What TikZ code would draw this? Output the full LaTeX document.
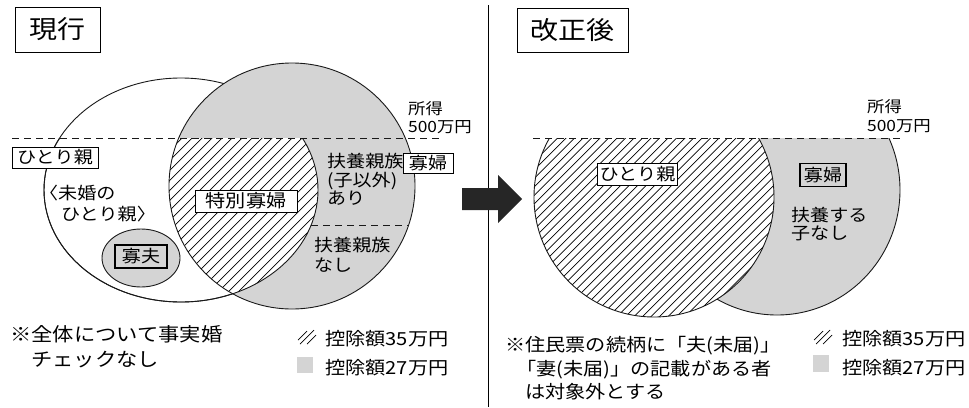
\documentclass[tikz,border=0pt]{standalone}
\usepackage{fontspec}
\setmainfont{Noto Sans CJK JP}[FakeStretch=1.12]
\begin{document}
\begin{tikzpicture}[x=1pt,y=-1pt,
  outl/.style={line width=0.9pt, draw=black!90},
  grayfill/.style={fill=black!17},
  hatchline/.style={line width=0.7pt},
  fs/.style={font=\fontsize{#1}{#1}\selectfont},
  txt/.style={inner sep=0pt, anchor=base west},
  lblbox/.style={draw, line width=0.9pt, fill=white, inner sep=0pt},
  titlebox/.style={draw, line width=0.9pt, inner sep=0pt, fs=25}
]
\useasboundingbox (0,0) rectangle (969,407);

% ---------- left panel ----------
\draw[outl] (181,190) ellipse[x radius=137, y radius=112];
\fill[grayfill] (292,186) circle[radius=123];
\begin{scope}
  \clip (0,138) rectangle (480,407);
  \clip (181,190) ellipse[x radius=137, y radius=112];
  \clip (292,186) circle[radius=123];
  \fill[white] (150,130) rectangle (340,320);
  \foreach \k in {-30,-20,...,320} \draw[hatchline] (\k,330) -- (\k+220,110);
\end{scope}
\begin{scope}
  \clip (0,138) rectangle (480,407);
  \draw[outl] (181,190) ellipse[x radius=137, y radius=112];
\end{scope}
\draw[outl] (292,186) circle[radius=123];
\draw[outl, dash pattern=on 7pt off 5pt] (12,138) -- (443,138);
\draw[outl, dash pattern=on 7pt off 5pt] (311,225) -- (409,225);
\draw[outl, grayfill] (141,258) ellipse[x radius=39, y radius=29];

\node[titlebox, minimum width=85pt, minimum height=45pt] (tGenko) at (57.5,29.5) {現行};
\node[lblbox, fs=17, minimum width=86pt, minimum height=21pt] (lHitori) at (55,157.5) {ひとり親};
\node[txt, fs=17] (lMikon1) at (39,199) {〈未婚の};
\node[txt, fs=17, anchor=base east] (lMikon2) at (156,220) {ひとり親〉};
\node[lblbox, fs=17, line width=1.3pt, fill=none, minimum width=52pt, minimum height=23pt] (lKafu) at (141,256.5) {寡夫};
\node[lblbox, fs=18, minimum width=102pt, minimum height=22pt] (lTokubetsu) at (246,201) {特別寡婦};
\node[txt, fs=17] (lFuyo1) at (327,167) {扶養親族};
\node[txt, fs=17] (lFuyo2) at (327,186) {(子以外)};
\node[txt, fs=17] (lFuyo3) at (327,204) {あり};
\node[lblbox, fs=17, minimum width=50pt, minimum height=20pt] (lKafuW) at (428,163) {寡婦};
\node[txt, fs=15.5] (lShotoku1) at (408,114) {所得};
\node[txt, fs=15.5] (lShotoku2) at (408,132) {500万円};
\node[txt, fs=17] (lNashi1) at (314,251) {扶養親族};
\node[txt, fs=17] (lNashi2) at (314,271) {なし};
\node[txt, fs=19] (lNote1) at (10,341) {※全体について事実婚};
\node[txt, fs=19] (lNote2) at (31,366) {チェックなし};
% legend left
\draw[hatchline] (298,340) -- (307,331);
\draw[hatchline] (300,344) -- (314,330);
\draw[hatchline] (307,344) -- (316,335);
\fill[grayfill] (297,357) rectangle (313,373);
\node[txt, fs=18] (lLeg1) at (325,345) {控除額35万円};
\node[txt, fs=18] (lLeg2) at (325,374) {控除額27万円};

% ---------- divider and arrow ----------
\draw[line width=1pt] (488,5) -- (488,407);
\fill[black!85] (462,188) -- (498,188) -- (498,175) -- (522,199) -- (498,223) -- (498,210) -- (462,210) -- cycle;

% ---------- right panel ----------
\begin{scope}
  \clip (500,138) rectangle (969,407);
  \draw[outl, grayfill] (777,190) ellipse[x radius=123, y radius=125];
  \fill[white] (654,197) circle[radius=120];
  \begin{scope}
    \clip (654,197) circle[radius=120];
    \foreach \k in {340,348.5,...,790} \draw[hatchline] (\k,330) -- (\k+220,110);
  \end{scope}
  \draw[outl] (654,197) circle[radius=120];
\end{scope}
\draw[outl, dash pattern=on 7pt off 5pt] (533,138) -- (900,138);

\node[titlebox, minimum width=111pt, minimum height=44pt] (tKaisei) at (572.5,30) {改正後};
\node[txt, fs=15.5] (rShotoku1) at (867,112) {所得};
\node[txt, fs=15.5] (rShotoku2) at (867,131) {500万円};
\node[lblbox, fs=17, minimum width=80pt, minimum height=22pt] (rHitori) at (637.5,174) {ひとり親};
\node[lblbox, fs=17, line width=1.3pt, fill=none, minimum width=46pt, minimum height=23pt] (rKafu) at (823,175) {寡婦};
\node[txt, fs=17] (rFuyo1) at (791,221) {扶養する};
\node[txt, fs=17] (rFuyo2) at (791,239) {子なし};
\node[txt, fs=18] (rNote1) at (505,351) {※住民票の続柄に「夫(未届)」};
\node[txt, fs=18] (rNote2) at (516,375) {「妻(未届)」の記載がある者};
\node[txt, fs=18] (rNote3) at (525,398) {は対象外とする};
% legend right
\draw[hatchline] (814,340) -- (823,331);
\draw[hatchline] (816,344) -- (830,330);
\draw[hatchline] (823,344) -- (832,335);
\fill[grayfill] (813,355) rectangle (829,372);
\node[txt, fs=18] (rLeg1) at (842,345) {控除額35万円};
\node[txt, fs=18] (rLeg2) at (842,374) {控除額27万円};
\end{tikzpicture}
\end{document}
